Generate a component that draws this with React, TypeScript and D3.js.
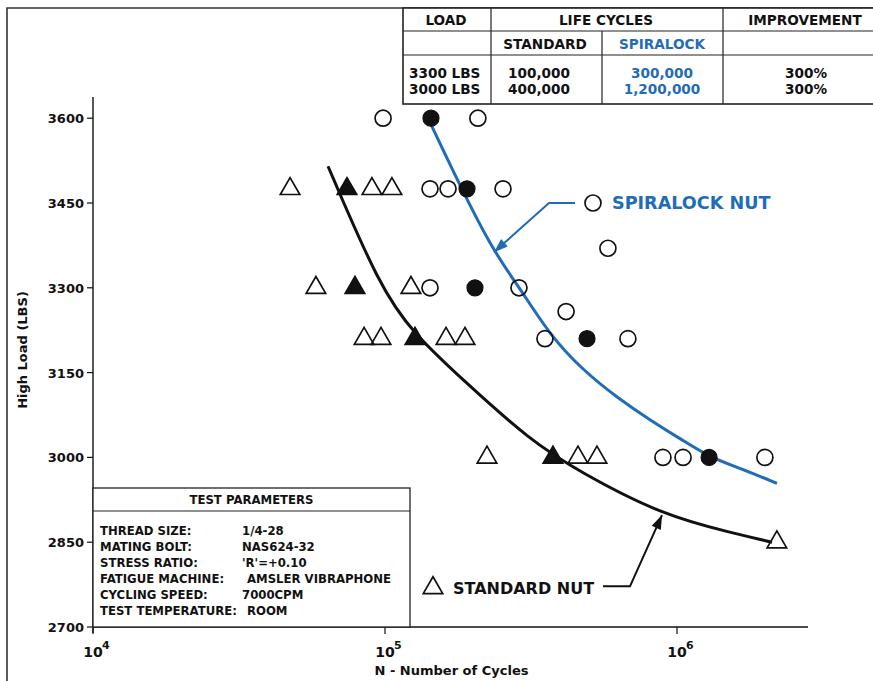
import React from 'react';
import * as d3 from 'd3';

const W = 873;
const H = 681;

// Axis ticks
const loadTicks = [2700, 2850, 3000, 3150, 3300, 3450, 3600];
const cycleTicks = [1e4, 1e5, 1e6];

// Standard nut (triangles)
const stdOpenN = [47300, 90200, 105600, 58000, 122700, 84800, 96900, 161800, 187900, 223500, 458000, 532000, 2198000];
const stdOpenLoad = [3475, 3475, 3475, 3300, 3300, 3210, 3210, 3210, 3210, 3000, 3000, 3000, 2850];
const stdFilledN = [74100, 78900, 126700, 376000];
const stdFilledLoad = [3475, 3300, 3210, 3000];

// Spiralock nut (circles)
const spiOpenN = [98500, 208000, 142600, 164400, 253600, 580000, 142600, 287600, 417000, 353000, 679000, 895000, 1049000, 2000000];
const spiOpenLoad = [3600, 3600, 3475, 3475, 3475, 3370, 3300, 3300, 3258, 3210, 3210, 3000, 3000, 3000];
const spiFilledN = [143700, 190900, 203300, 491900, 1288000];
const spiFilledLoad = [3600, 3475, 3300, 3210, 3000];

// Fitted curves
const stdCurveN = [63800, 96100, 124700, 184900, 313700, 465500, 888500, 1555000, 2115000];
const stdCurveLoad = [3515, 3301, 3220, 3137, 3030, 2974, 2898, 2866, 2850];
const spiCurveN = [140400, 183500, 236200, 290000, 367400, 476600, 623000, 808000, 1048000, 1297000, 1643000, 2200000];
const spiCurveLoad = [3600, 3473, 3363, 3299, 3216, 3154, 3106, 3066, 3030, 3000, 2981, 2954];

// Table
const tableLoads = ['3300 LBS', '3000 LBS'];
const tableStandard = ['100,000', '400,000'];
const tableSpiralock = ['300,000', '1,200,000'];
const tableImprovement = ['300%', '300%'];

// Test parameters
const paramLabels = ['THREAD SIZE:', 'MATING BOLT:', 'STRESS RATIO:', 'FATIGUE MACHINE:', 'CYCLING SPEED:', 'TEST TEMPERATURE:'];
const paramValues = ['1/4-28', 'NAS624-32', "'R'=+0.10", 'AMSLER VIBRAPHONE', '7000CPM', 'ROOM'];

const BLUE = '#1f6db6';
const INK = '#111';
const FONT = "'DejaVu Sans', Verdana, sans-serif";

function zip(a: number[], b: number[]): [number, number][] {
  return a.map((v, i) => [v, b[i]] as [number, number]);
}

function arrowHead(tip: [number, number], from: [number, number], len = 14, half = 5) {
  const dx = tip[0] - from[0];
  const dy = tip[1] - from[1];
  const d = Math.hypot(dx, dy);
  const ux = dx / d, uy = dy / d;
  const bx = tip[0] - ux * len, by = tip[1] - uy * len;
  const px = -uy, py = ux;
  return `M${tip[0]},${tip[1]}L${bx + px * half},${by + py * half}L${bx - px * half},${by - py * half}Z`;
}

export default function App() {
  const left = 93, right = 808, top = 97, bottom = 627;
  const x = d3.scaleLog().domain([1e4, Math.pow(10, 4 + (right - left) / 292)]).range([left, right]);
  const y = d3.scaleLinear().domain([2700, 2700 + (bottom - top) * 150 / 84.8]).range([bottom, top]);

  const line = d3.line<[number, number]>().x(d => x(d[0])).y(d => y(d[1])).curve(d3.curveBasis);
  const triPath = d3.symbol().type(d3.symbolTriangle).size(165)() as string;

  // annotation anchors (data space)
  const spiTip: [number, number] = [x(236200), y(3363)];
  const spiElbow: [number, number] = [x(364400), y(3450)];
  const spiStart: [number, number] = [x(447400), y(3450)];
  const spiMarker: [number, number] = [x(515600), y(3450)];
  const stdTip: [number, number] = [x(888500), y(2898)];
  const stdElbow: [number, number] = [x(690200), y(2772)];
  const stdStart: [number, number] = [x(557800), y(2772)];
  const stdMarker: [number, number] = [x(146000), y(2769)];

  // table geometry
  const tX = [403, 491, 602, 723, 880];
  const tY = [8, 31, 55, 104];
  const pFont = 11.7;

  return (
    <svg width={W} height={H} style={{ position: 'absolute', left: 0, top: 0, background: '#fff' }} fontFamily={FONT}>
      <rect x={0} y={0} width={W} height={H} fill="#fff" />
      {/* outer frame */}
      <path d={`M7,${H + 2}V8H${W + 2}`} fill="none" stroke="#333" strokeWidth={1.6} />

      {/* table */}
      <g>
        <rect x={tX[0]} y={tY[0]} width={tX[4] - tX[0]} height={tY[3] - tY[0]} fill="#fff" stroke="#222" strokeWidth={1.6} />
        <line x1={tX[0]} x2={tX[4]} y1={tY[1]} y2={tY[1]} stroke="#222" strokeWidth={1.2} />
        <line x1={tX[0]} x2={tX[4]} y1={tY[2]} y2={tY[2]} stroke="#222" strokeWidth={1.2} />
        <line x1={tX[1]} x2={tX[1]} y1={tY[0]} y2={tY[3]} stroke="#222" strokeWidth={1.2} />
        <line x1={tX[3]} x2={tX[3]} y1={tY[0]} y2={tY[3]} stroke="#222" strokeWidth={1.2} />
        <line x1={tX[2]} x2={tX[2]} y1={tY[1]} y2={tY[3]} stroke="#222" strokeWidth={1.2} />
        <g fontWeight="bold" fontSize={13.6} fill={INK} textAnchor="middle">
          <text x={446} y={25}>LOAD</text>
          <text x={606} y={25}>LIFE CYCLES</text>
          <text x={805} y={25}>IMPROVEMENT</text>
          <text x={545} y={49}>STANDARD</text>
          <text x={662} y={49} fill={BLUE}>SPIRALOCK</text>
          {tableLoads.map((t, i) => (
            <text key={'l' + i} x={409} y={78 + i * 16} textAnchor="start">{t}</text>
          ))}
          {tableStandard.map((t, i) => (
            <text key={'s' + i} x={539} y={78 + i * 16}>{t}</text>
          ))}
          {tableSpiralock.map((t, i) => (
            <text key={'p' + i} x={662} y={78 + i * 16} fill={BLUE}>{t}</text>
          ))}
          {tableImprovement.map((t, i) => (
            <text key={'m' + i} x={806} y={78 + i * 16}>{t}</text>
          ))}
        </g>
      </g>

      {/* axes */}
      <line x1={left} x2={left} y1={top} y2={bottom + 6} stroke={INK} strokeWidth={1.4} />
      <line x1={left} x2={right} y1={bottom} y2={bottom} stroke={INK} strokeWidth={1.4} />
      {loadTicks.map(t => (
        <g key={t}>
          <line x1={left - 6} x2={left} y1={y(t)} y2={y(t)} stroke={INK} strokeWidth={1.2} />
          <text x={left - 9} y={y(t) + 5} textAnchor="end" fontWeight="bold" fontSize={13} fill={INK}>{t}</text>
        </g>
      ))}
      {cycleTicks.map(t => (
        <g key={t}>
          <line x1={x(t)} x2={x(t)} y1={bottom} y2={bottom + 7} stroke={INK} strokeWidth={1.2} />
          <text x={x(t)} y={657} textAnchor="middle" fontWeight="bold" fontSize={14} fill={INK}>10</text>
          <text x={x(t) + 9} y={649} textAnchor="start" fontWeight="bold" fontSize={11} fill={INK}>{Math.round(Math.log10(t))}</text>
        </g>
      ))}
      <text x={(left + right) / 2 + 1} y={675} textAnchor="middle" fontWeight="bold" fontSize={13} fill={INK}>N - Number of Cycles</text>
      <text transform={`translate(27,350) rotate(-90)`} textAnchor="middle" fontWeight="bold" fontSize={13} fill={INK}>High Load (LBS)</text>

      {/* test parameters box */}
      <g>
        <rect x={left} y={488} width={410 - left} height={bottom - 488} fill="#fff" stroke="#222" strokeWidth={1.3} />
        <line x1={left} x2={410} y1={511} y2={511} stroke="#222" strokeWidth={1.2} />
        <text x={(left + 410) / 2} y={504} textAnchor="middle" fontWeight="bold" fontSize={pFont} fill={INK}>TEST PARAMETERS</text>
        {paramLabels.map((l, i) => (
          <g key={l}>
            <text x={100} y={535 + i * 16} fontWeight="bold" fontSize={pFont} fill={INK}>{l}</text>
            <text x={i === 3 || i === 5 ? 247 : 242} y={535 + i * 16} fontWeight="bold" fontSize={pFont} fill={INK}>{paramValues[i]}</text>
          </g>
        ))}
      </g>

      {/* curves */}
      <path d={line(zip(stdCurveN, stdCurveLoad)) as string} fill="none" stroke={INK} strokeWidth={3} />
      <path d={line(zip(spiCurveN, spiCurveLoad)) as string} fill="none" stroke={BLUE} strokeWidth={3} />

      {/* points */}
      {zip(stdOpenN, stdOpenLoad).map((d, i) => (
        <path key={'to' + i} d={triPath} transform={`translate(${x(d[0])},${y(d[1])})`} fill="none" stroke={INK} strokeWidth={1.7} />
      ))}
      {zip(stdFilledN, stdFilledLoad).map((d, i) => (
        <path key={'tf' + i} d={triPath} transform={`translate(${x(d[0])},${y(d[1])})`} fill={INK} stroke={INK} strokeWidth={1.7} />
      ))}
      {zip(spiOpenN, spiOpenLoad).map((d, i) => (
        <circle key={'co' + i} cx={x(d[0])} cy={y(d[1])} r={8} fill="none" stroke={INK} strokeWidth={1.7} />
      ))}
      {zip(spiFilledN, spiFilledLoad).map((d, i) => (
        <circle key={'cf' + i} cx={x(d[0])} cy={y(d[1])} r={8} fill={INK} stroke={INK} strokeWidth={1.2} />
      ))}

      {/* annotations */}
      <path d={`M${spiStart[0]},${spiStart[1]}L${spiElbow[0]},${spiElbow[1]}L${spiTip[0]},${spiTip[1]}`} fill="none" stroke={BLUE} strokeWidth={2} />
      <path d={arrowHead(spiTip, spiElbow)} fill={BLUE} />
      <circle cx={spiMarker[0]} cy={spiMarker[1]} r={8} fill="#fff" stroke={INK} strokeWidth={1.7} />
      <text x={spiMarker[0] + 19} y={spiMarker[1] + 6} fontWeight="bold" fontSize={17.6} fill={BLUE}>SPIRALOCK NUT</text>

      <path d={`M${stdStart[0]},${stdStart[1]}L${stdElbow[0]},${stdElbow[1]}L${stdTip[0]},${stdTip[1]}`} fill="none" stroke={INK} strokeWidth={2} />
      <path d={arrowHead(stdTip, stdElbow)} fill={INK} />
      <path d={triPath} transform={`translate(${stdMarker[0]},${stdMarker[1]})`} fill="#fff" stroke={INK} strokeWidth={1.7} />
      <text x={stdMarker[0] + 20} y={stdMarker[1] + 6} fontWeight="bold" fontSize={16} fill={INK}>STANDARD NUT</text>
    </svg>
  );
}
